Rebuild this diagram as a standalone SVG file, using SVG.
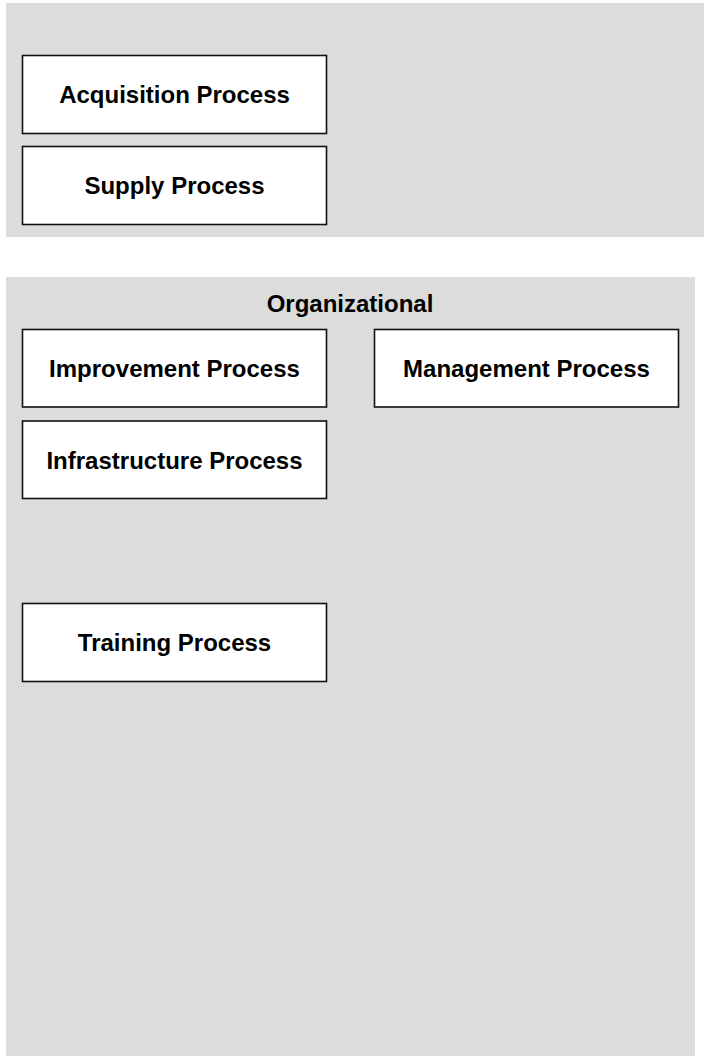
<svg xmlns="http://www.w3.org/2000/svg" width="704" height="1056" viewBox="0 0 704 1056">
<style>
.panel{fill:#dcdcdc;stroke:none}
.box{fill:#ffffff;stroke:#111111;stroke-width:1.6}
.lbl{font-family:"Liberation Sans",Arial,sans-serif;font-weight:bold;font-size:24px;fill:#000000;text-anchor:middle}
</style>
<rect width="704" height="1056" fill="#ffffff"/>
<g id="panel-top">
<rect class="panel" x="6" y="3" width="698" height="234"/>
</g>
<g id="panel-organizational">
<rect class="panel" x="6" y="277" width="689" height="779"/>
<text class="lbl" x="350" y="312">Organizational</text>
</g>
<g id="acquisition">
<rect class="box" x="22.5" y="55.5" width="304" height="78"/>
<text class="lbl" x="174.5" y="103">Acquisition Process</text>
</g>
<g id="supply">
<rect class="box" x="22.5" y="146.5" width="304" height="78"/>
<text class="lbl" x="174.5" y="194">Supply Process</text>
</g>
<g id="improvement">
<rect class="box" x="22.5" y="329.5" width="304" height="77.5"/>
<text class="lbl" x="174.5" y="377">Improvement Process</text>
</g>
<g id="management">
<rect class="box" x="374.5" y="329.5" width="304" height="77.5"/>
<text class="lbl" x="526.5" y="377">Management Process</text>
</g>
<g id="infrastructure">
<rect class="box" x="22.5" y="421" width="304" height="77.5"/>
<text class="lbl" x="174.5" y="469">Infrastructure Process</text>
</g>
<g id="training">
<rect class="box" x="22.5" y="603.5" width="304" height="78"/>
<text class="lbl" x="174.5" y="651">Training Process</text>
</g>
<g id="connectors"></g>
</svg>
